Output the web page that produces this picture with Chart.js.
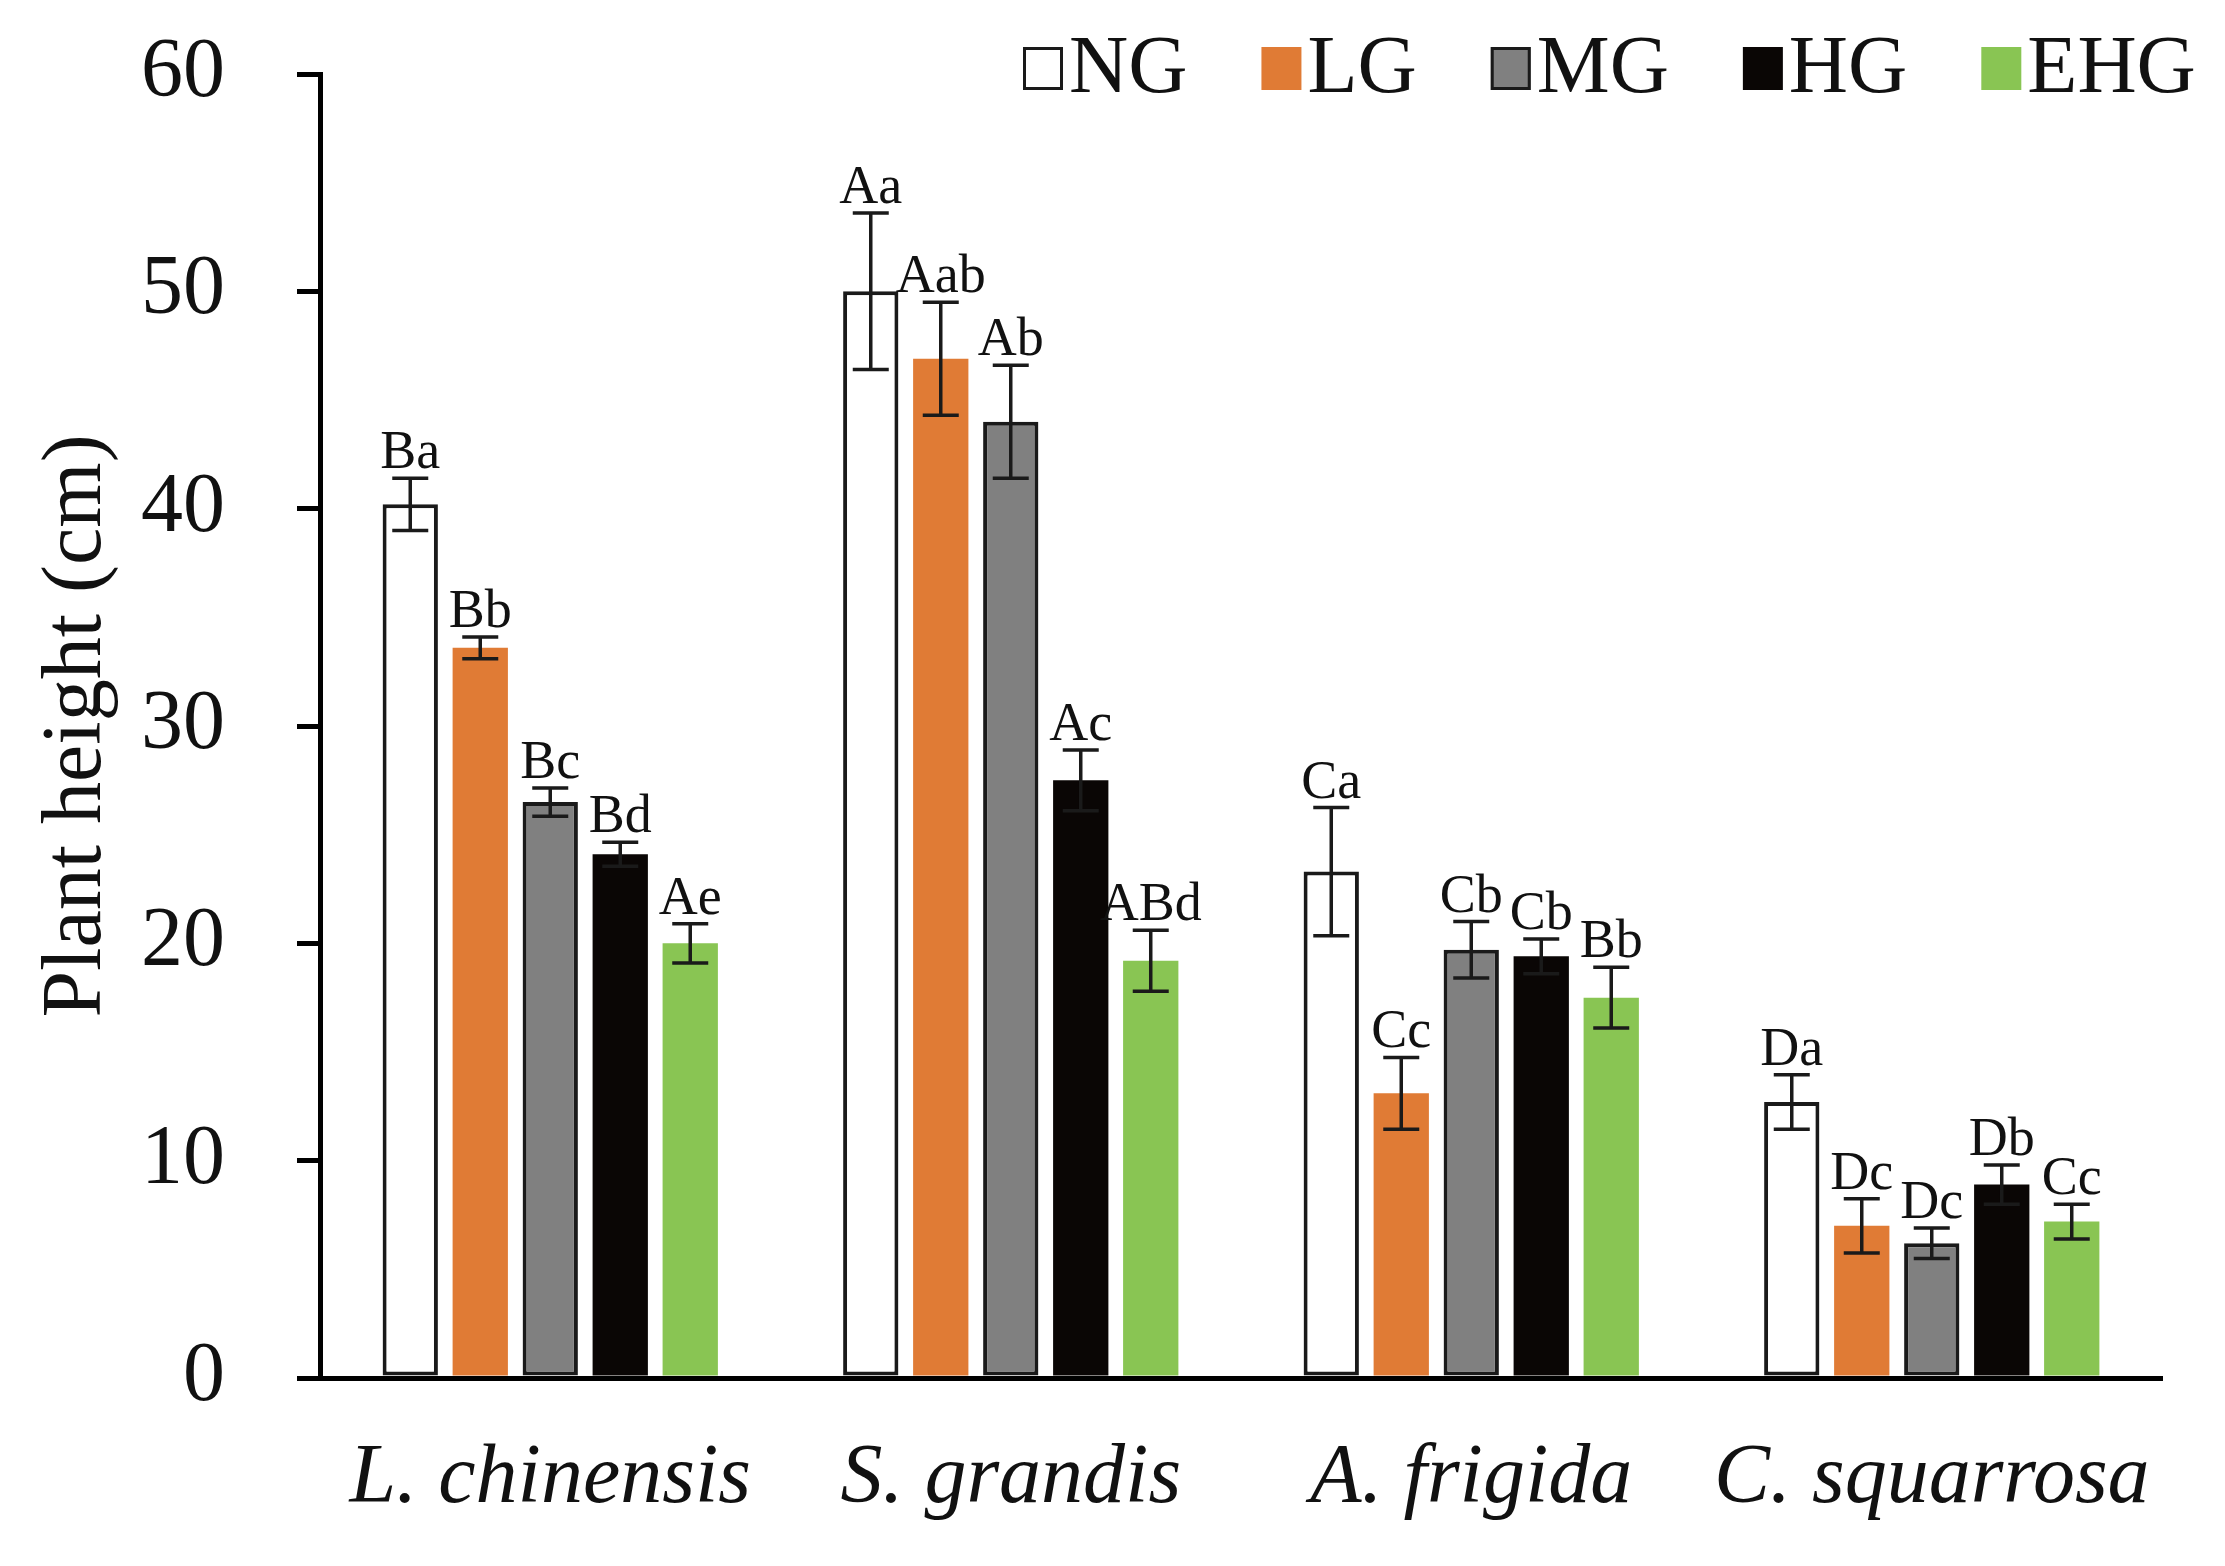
<!DOCTYPE html>
<html>
<head>
<meta charset="utf-8">
<script src="https://cdn.jsdelivr.net/npm/chart.js@4"></script>
<style>
  html, body { margin: 0; padding: 0; background: #fff; }
  canvas { display: block; }
</style>
</head>
<body>
<canvas id="height-chart" width="2225" height="1566"></canvas>
<script>
const FONT = "'Liberation Serif', 'Times New Roman', serif";

const species = ['L. chinensis', 'S. grandis', 'A. frigida', 'C. squarrosa'];
const groups = ['NG', 'LG', 'MG', 'HG', 'EHG'];
const yTicks = [0, 10, 20, 30, 40, 50, 60];

// mean plant height (cm) per grazing level
const ngHeight  = [40.2, 50.0, 23.3, 12.7];
const lgHeight  = [33.6, 46.9, 13.1, 7.0];
const mgHeight  = [26.5, 44.0, 19.7, 6.2];
const hgHeight  = [24.1, 27.5, 19.4, 8.9];
const ehgHeight = [20.0, 19.2, 17.5, 7.2];

// standard errors
const ngErr  = [1.2, 3.6, 2.95, 1.25];
const lgErr  = [0.5, 2.6, 1.65, 1.25];
const mgErr  = [0.65, 2.6, 1.3, 0.7];
const hgErr  = [0.55, 1.4, 0.8, 0.9];
const ehgErr = [0.9, 1.4, 1.4, 0.8];

// significance letters
const ngSig  = ['Ba', 'Aa', 'Ca', 'Da'];
const lgSig  = ['Bb', 'Aab', 'Cc', 'Dc'];
const mgSig  = ['Bc', 'Ab', 'Cb', 'Dc'];
const hgSig  = ['Bd', 'Ac', 'Cb', 'Db'];
const ehgSig = ['Ae', 'ABd', 'Bb', 'Cc'];

function makeSet(label, data, errors, sig, fill, border, borderWidth) {
  return {
    label: label,
    data: data,
    errors: errors,
    sig: sig,
    backgroundColor: fill,
    borderColor: border,
    borderWidth: borderWidth,
    borderSkipped: false,
    categoryPercentage: 0.76,
    barPercentage: 0.79
  };
}

// error bars + letters above each bar
const errorBars = {
  id: 'errorBars',
  afterDatasetsDraw(chart) {
    const ctx = chart.ctx;
    const yScale = chart.scales.y;
    ctx.save();
    chart.data.datasets.forEach((ds, i) => {
      const meta = chart.getDatasetMeta(i);
      meta.data.forEach((bar, j) => {
        const v = ds.data[j];
        const e = ds.errors[j];
        const top = yScale.getPixelForValue(v + e);
        const bot = yScale.getPixelForValue(v - e);
        const x = bar.x;
        const cap = 18;
        ctx.strokeStyle = '#1a1a1a';
        ctx.lineWidth = 3.5;
        ctx.beginPath();
        ctx.moveTo(x, top); ctx.lineTo(x, bot);
        ctx.moveTo(x - cap, top); ctx.lineTo(x + cap, top);
        ctx.moveTo(x - cap, bot); ctx.lineTo(x + cap, bot);
        ctx.stroke();

        ctx.fillStyle = '#111';
        ctx.font = '54px ' + FONT;
        ctx.textAlign = 'center';
        ctx.textBaseline = 'alphabetic';
        ctx.fillText(ds.sig[j], x, top - 10);
      });
    });
    ctx.restore();
  }
};

// compact legend on the top right
const topLegend = {
  id: 'topLegend',
  afterDraw(chart) {
    const ctx = chart.ctx;
    ctx.save();
    ctx.font = '82px ' + FONT;
    ctx.textBaseline = 'alphabetic';
    ctx.textAlign = 'left';
    let x = 1023;
    const boxTop = 47, boxW = 40, boxH = 43, baseline = 92;
    chart.data.datasets.forEach(ds => {
      ctx.fillStyle = ds.backgroundColor;
      ctx.fillRect(x, boxTop, boxW, boxH);
      if (ds.borderWidth > 0) {
        ctx.strokeStyle = ds.borderColor;
        ctx.lineWidth = 3;
        ctx.strokeRect(x + 1.5, boxTop + 1.5, boxW - 3, boxH - 3);
      }
      x += boxW + 6;
      ctx.fillStyle = '#111';
      ctx.fillText(ds.label, x, baseline);
      x += ctx.measureText(ds.label).width + 74;
    });
    ctx.restore();
  }
};

const chartData = {
  labels: species,
  datasets: [
    makeSet(groups[0], ngHeight, ngErr, ngSig, '#ffffff', '#1a1a1a', 4),
    makeSet(groups[1], lgHeight, lgErr, lgSig, '#e07b35', '#e07b35', 0),
    makeSet(groups[2], mgHeight, mgErr, mgSig, '#808080', '#1a1a1a', 4),
    makeSet(groups[3], hgHeight, hgErr, hgSig, '#0a0605', '#0a0605', 0),
    makeSet(groups[4], ehgHeight, ehgErr, ehgSig, '#89c553', '#89c553', 0)
  ]
};

const chartConfig = {
  type: 'bar',
  data: chartData,
  plugins: [errorBars, topLegend],
  options: {
    responsive: false,
    animation: false,
    devicePixelRatio: 1,
    layout: {
      padding: { top: 74, right: 63, bottom: 0, left: 0 }
    },
    plugins: {
      legend: { display: false },
      tooltip: { enabled: false }
    },
    scales: {
      x: {
        grid: { display: false, drawTicks: false },
        border: { display: true, color: '#000', width: 5 },
        ticks: {
          color: '#111',
          padding: 52,
          font: { family: FONT, size: 84, style: 'italic' }
        },
        afterFit: (scale) => { scale.height = 188; }
      },
      y: {
        min: 0,
        max: 60,
        afterBuildTicks: (scale) => {
          scale.ticks = yTicks.map(v => ({ value: v }));
        },
        grid: {
          drawOnChartArea: false,
          drawTicks: true,
          tickLength: 23,
          tickColor: '#000',
          lineWidth: 5
        },
        border: { display: true, color: '#000', width: 5 },
        ticks: {
          color: '#111',
          padding: 72,
          // tiny line height keeps the label overhang from pushing the plot down
          font: { family: FONT, size: 84, lineHeight: 0.01 }
        },
        title: {
          display: true,
          text: 'Plant height (cm)',
          color: '#111',
          padding: { top: 28, bottom: 0 },
          font: { family: FONT, size: 84 }
        },
        afterFit: (scale) => { scale.width = 320; }
      }
    }
  }
};

const ctx = document.getElementById('height-chart').getContext('2d');
new Chart(ctx, chartConfig);
</script>
</body>
</html>
